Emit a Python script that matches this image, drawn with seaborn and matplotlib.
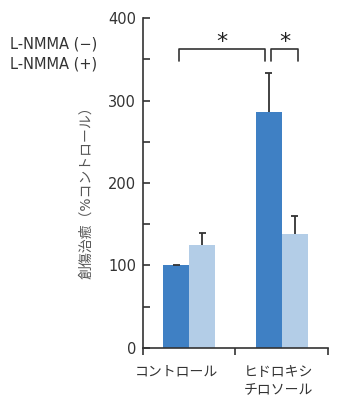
import pandas as pd
import matplotlib
matplotlib.use("Agg")
import matplotlib.pyplot as plt
import seaborn as sns
from matplotlib.ticker import MultipleLocator, FixedLocator

# データ
groups = ["コントロール", "ヒドロキシ\nチロソール"]
conditions = ["L-NMMA (−)", "L-NMMA (+)"]
mean_minus = [100, 286]
mean_plus = [125, 138]
err_minus = [1, 47]
err_plus = [14, 22]
y_ticks = [0, 100, 200, 300, 400]
y_label = "創傷治癒（%コントロール）"
sig_marks = ["*", "*"]

colors = ["#3f80c4", "#b3cde7"]
ink = "#333333"

df = pd.DataFrame({
    "group": groups * 2,
    "cond": [conditions[0]] * 2 + [conditions[1]] * 2,
    "value": mean_minus + mean_plus,
})

sns.set_style("ticks")
plt.rcParams["font.family"] = ["DejaVu Sans", "Noto Sans CJK JP"]

fig = plt.figure(figsize=(3.58, 3.95), dpi=100)
ax = fig.add_axes([0.3994, 0.1190, 0.5168, 0.8354])

sns.barplot(data=df, x="group", y="value", hue="cond", order=groups,
            hue_order=conditions, palette=colors, width=0.56, gap=0,
            errorbar=None, legend=False, saturation=1, linewidth=0,
            ax=ax)

# エラーバー（上側のみ、キャップは上だけ）
cap = 0.038
for cont, errs in zip(ax.containers, [err_minus, err_plus]):
    for bar, e in zip(cont, errs):
        xc = bar.get_x() + bar.get_width() / 2
        top = bar.get_height()
        ax.vlines(xc, top, top + e, color=ink, lw=1.3)
        ax.hlines(top + e, xc - cap, xc + cap, color=ink, lw=1.3)

# 有意差ブラケット
bars = list(ax.containers[0]) + list(ax.containers[1])
cx = [b.get_x() + b.get_width() / 2 for b in bars]
# 0:control(-) 1:hydroxy(-) 2:control(+) 3:hydroxy(+)
pairs = [(0, 1, 0.025, -0.04), (1, 3, 0.028, 0.04)]
for (a, b, da, db), mark in zip(pairs, sig_marks):
    x1, x2 = cx[a] + da, cx[b] + db
    ax.plot([x1, x1, x2, x2], [348, 363, 363, 348], color=ink, lw=1.2,
            clip_on=False)
    ax.text((x1 + x2) / 2, 371, mark, ha="center", va="center",
            fontsize=16, color="#222222")

ax.set_ylim(0, 400)
ax.set_xlim(-0.5, 1.5)
ax.set_yticks(y_ticks)
ax.yaxis.set_minor_locator(MultipleLocator(50))
ax.tick_params(axis="y", which="both", direction="in", length=5, width=1.2,
               color=ink, labelcolor=ink, labelsize=10.5, pad=5)

ax.set_xticks([-0.143, 0.965])
ax.set_xticklabels(groups, fontsize=10, color=ink, linespacing=1.3)
ax.tick_params(axis="x", which="major", length=0, pad=12)
ax.xaxis.set_minor_locator(FixedLocator([-0.5, 0.5, 1.5]))
ax.tick_params(axis="x", which="minor", direction="out", length=5,
               width=1.2, color=ink)

for s in ["top", "right"]:
    ax.spines[s].set_visible(False)
for s in ["left", "bottom"]:
    ax.spines[s].set_color(ink)
    ax.spines[s].set_linewidth(1.2)

ax.set_xlabel("")
ax.set_ylabel(y_label, fontsize=10, color="#555555")
ax.yaxis.set_label_coords(-0.27, 0.48)

# 凡例テキスト
fig.text(0.028, 1 - 44 / 395, conditions[0], fontsize=10.5, color=ink,
         va="center")
fig.text(0.028, 1 - 64 / 395, conditions[1], fontsize=10.5, color=ink,
         va="center")

fig.savefig("out.png", dpi=100)
plt.close(fig)
